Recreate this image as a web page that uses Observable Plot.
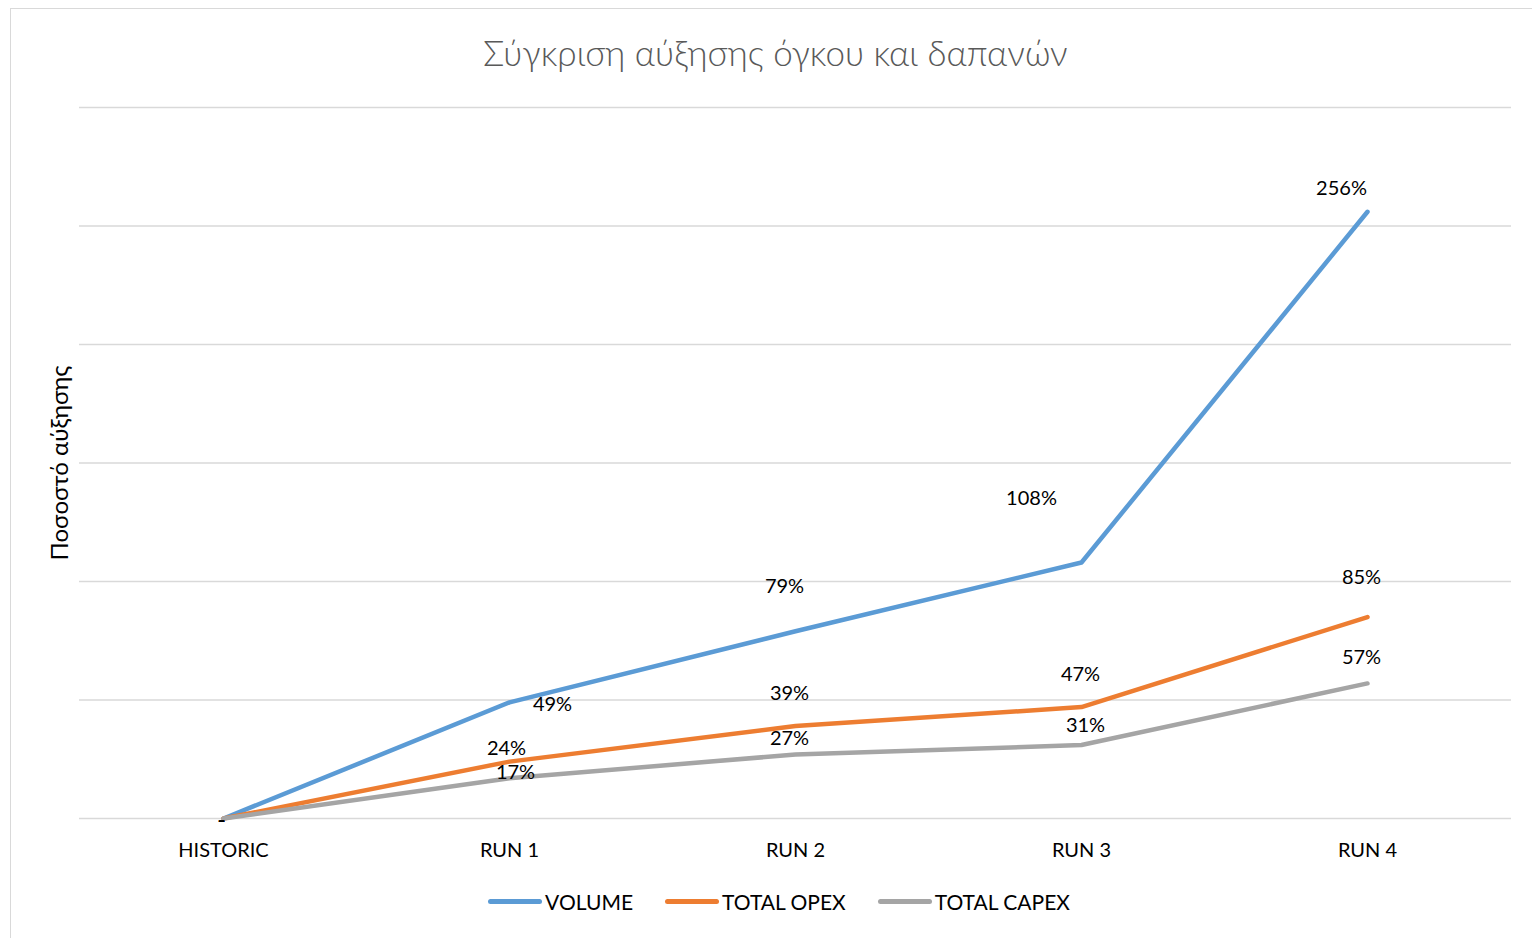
<!DOCTYPE html>
<html>
<head>
<meta charset="utf-8">
<script src="https://cdn.jsdelivr.net/npm/d3@7"></script>
<script src="https://cdn.jsdelivr.net/npm/@observablehq/plot@0.6"></script>
<style>
  html, body { margin: 0; padding: 0; background: #fff; }
  #wrap { position: relative; width: 1532px; height: 938px; overflow: hidden; font-family: Lato, "Open Sans", sans-serif; }
  #frame { position: absolute; left: 10px; top: 8px; width: 1600px; height: 1000px; border: 1.5px solid #d9d9d9; box-sizing: border-box; }
  #title { position: absolute; top: 28px; left: 0; width: 1551px; text-align: center; font-size: 35px; font-weight: 300; color: #595959; line-height: 48px; }
  #chart { position: absolute; top: 100px; left: 0; }
  #legend { position: absolute; top: 889px; left: 0; width: 1558px; display: flex; justify-content: center; align-items: center; font-size: 21px; color: #000; }
  .item { display: flex; align-items: center; margin: 0 16px; }
  .sw { width: 54px; height: 5px; border-radius: 3px; margin-right: 3px; }
</style>
</head>
<body>
<div id="wrap">
  <div id="frame"></div>
  <div id="title">Σύγκριση αύξησης όγκου και δαπανών</div>
  <div id="chart"></div>
  <div id="legend"></div>
</div>
<script>
const categories = ["HISTORIC", "RUN 1", "RUN 2", "RUN 3", "RUN 4"];
const seriesNames = ["VOLUME", "TOTAL OPEX", "TOTAL CAPEX"];
const volume = [0, 0.49, 0.79, 1.08, 2.56];
const totalOpex = [0, 0.24, 0.39, 0.47, 0.85];
const totalCapex = [0, 0.17, 0.27, 0.31, 0.57];
const yTicks = [0, 0.5, 1, 1.5, 2, 2.5, 3];
const yLabel = "Ποσοστό αύξησης";
const colors = ["#5b9bd5", "#ed7d31", "#a5a5a5"];

// label nudges (pixels) mimicking the original label placement
const labelNudges = [
  [[-2, 2], [43, 2], [-11, -45], [-50, -64], [-26, -23]],
  [[-2, 2], [-3, -13], [-6, -32], [-1, -33], [-6, -39]],
  [[-2, 2], [6, -6], [-6, -16], [4, -19], [-6, -26]]
];

const seriesValues = [volume, totalOpex, totalCapex];
const rows = [];
seriesNames.forEach((s, si) => {
  categories.forEach((c, ci) => rows.push({series: s, cat: c, value: seriesValues[si][ci], si, ci}));
});

const fmt = v => v === 0 ? "-" : d3.format(".0%")(v);

const labelMarks = rows.map(r => Plot.text([r], {
  x: "cat", y: "value", text: d => fmt(d.value),
  dx: labelNudges[r.si][r.ci][0], dy: labelNudges[r.si][r.ci][1],
  fontSize: r.value === 0 ? 22 : 20, fill: "#000", textAnchor: "middle", lineAnchor: "middle"
}));

const chart = Plot.plot({
  width: 1532,
  height: 780,
  marginTop: 7,
  marginBottom: 62,
  marginLeft: 79,
  marginRight: 21,
  style: {fontFamily: "Lato, 'Open Sans', sans-serif", background: "transparent"},
  x: {type: "point", domain: categories, padding: 0.5},
  y: {domain: [0, 3], axis: null},
  color: {domain: seriesNames, range: colors},
  marks: [
    Plot.gridY(yTicks, {stroke: "#d9d9d9", strokeOpacity: 1, strokeWidth: 1.5}),
    Plot.axisX({tickSize: 0, tickPadding: 24, fontSize: 20, fill: "#000", label: null}),
    Plot.text([yLabel], {frameAnchor: "left", dx: -19, rotate: -90, textAnchor: "middle", lineAnchor: "middle", fontSize: 24, fill: "#000", text: d => d}),
    ...seriesNames.map(s => Plot.line(rows.filter(r => r.series === s), {
      x: "cat", y: "value", stroke: "series", strokeWidth: 4.5, strokeLinecap: "round", strokeLinejoin: "round"
    })),
    ...labelMarks
  ]
});
document.getElementById("chart").appendChild(chart);

const legend = document.getElementById("legend");
seriesNames.forEach((s, i) => {
  const it = document.createElement("div");
  it.className = "item";
  const sw = document.createElement("div");
  sw.className = "sw";
  sw.style.background = colors[i];
  const tx = document.createElement("span");
  tx.textContent = s;
  it.appendChild(sw); it.appendChild(tx);
  legend.appendChild(it);
});
</script>
</body>
</html>
